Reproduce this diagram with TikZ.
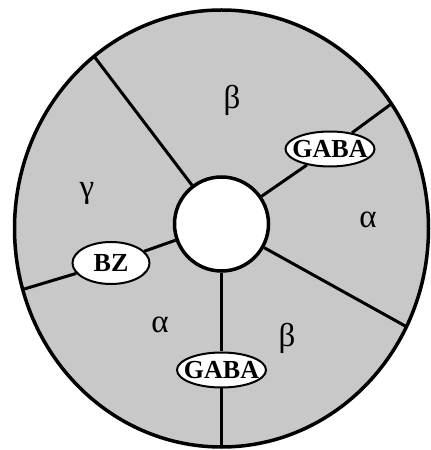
\documentclass[tikz,border=0pt]{standalone}
\usepackage{fontspec}
\setmainfont{Liberation Serif}
\usetikzlibrary{shapes.geometric}
\definecolor{cSub}{RGB}{200,200,200}

\begin{document}
\begin{tikzpicture}[x=1pt,y=1pt,
    site/.style={draw,ellipse,fill=white,line width=2pt,inner sep=0pt,
      minimum width=89pt,minimum height=35pt,font=\fontsize{26}{30}\selectfont\bfseries},
    sub/.style={font=\fontsize{33}{36}\selectfont},
    spoke/.style={line width=3pt}]
  \useasboundingbox (0,0) rectangle (431,450);
  \fill[cSub] (221.5,221.5) ellipse [x radius=207,y radius=218.5];
  % central pore
  \node[circle,draw,fill=white,line width=3.5pt,minimum size=94pt,inner sep=0pt] (pore) at (221.5,226) {};
  % binding sites
  \node[site] (gabaA) at (330,301) {\makebox[0pt]{GABA}};
  \node[site] (gabaB) at (221.5,80) {\makebox[0pt]{GABA}};
  \node[site,minimum width=77pt,minimum height=42pt] (bz) at (111,187) {\makebox[0pt]{BZ}};
  % ends of the spokes on the rim
  \begin{scope}[shift={(221.5,221.5)}]
    \coordinate (r1) at (128:207 and 218.5);
    \coordinate (r2) at (34.8:207 and 218.5);
    \coordinate (r3) at (-26.7:207 and 218.5);
    \coordinate (r4) at (-90:207 and 218.5);
    \coordinate (r5) at (196.2:207 and 218.5);
  \end{scope}
  \draw[spoke] (pore) -- (r1);
  \draw[spoke] (pore) -- (gabaA) -- (r2);
  \draw[spoke] (pore) -- (r3);
  \draw[spoke] (pore) -- (gabaB) -- (r4);
  \draw[spoke] (pore) -- (bz) -- (r5);
  \draw[line width=3.5pt] (221.5,221.5) ellipse [x radius=207,y radius=218.5];
  % subunits
  \node[sub] (b1) at (232,350) {β};
  \node[sub] (a1) at (368,230) {α};
  \node[sub] (b2) at (287,112) {β};
  \node[sub] (a2) at (160,125) {α};
  \node[sub] (g1) at (87,257) {γ};
\end{tikzpicture}
\end{document}
